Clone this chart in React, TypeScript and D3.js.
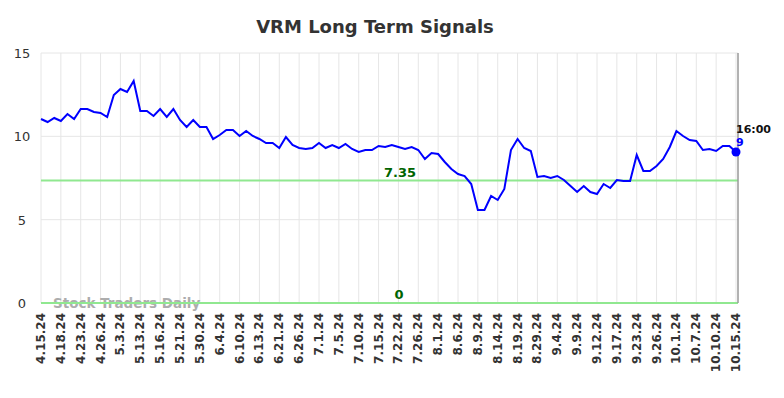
import { useEffect, useRef } from 'react';
import * as d3 from 'd3';

// tick labels shown along the bottom (every 3rd data point)
const tickLabels = [
  '4.15.24', '4.18.24', '4.23.24', '4.26.24', '5.3.24', '5.13.24', '5.16.24', '5.21.24', '5.30.24',
  '6.4.24', '6.10.24', '6.13.24', '6.21.24', '6.26.24', '7.1.24', '7.5.24', '7.10.24', '7.15.24',
  '7.22.24', '7.26.24', '8.1.24', '8.6.24', '8.9.24', '8.14.24', '8.19.24', '8.29.24', '9.4.24',
  '9.9.24', '9.12.24', '9.17.24', '9.23.24', '9.26.24', '10.1.24', '10.7.24', '10.10.24', '10.15.24'
];

// signal values
const signal = [
  11.04, 10.86, 11.1, 10.92, 11.34, 11.04, 11.64, 11.64, 11.46, 11.4,
  11.16, 12.48, 12.84, 12.66, 13.32, 11.52, 11.52, 11.22, 11.64, 11.16,
  11.64, 10.98, 10.56, 10.98, 10.56, 10.56, 9.84, 10.08, 10.38, 10.38,
  10.02, 10.32, 10.02, 9.84, 9.6, 9.6, 9.3, 9.96, 9.48, 9.3,
  9.24, 9.3, 9.6, 9.3, 9.48, 9.3, 9.54, 9.24, 9.06, 9.18,
  9.18, 9.42, 9.36, 9.48, 9.36, 9.24, 9.36, 9.18, 8.64, 9.0,
  8.94, 8.46, 8.04, 7.74, 7.62, 7.14, 5.58, 5.58, 6.42, 6.18,
  6.84, 9.18, 9.84, 9.3, 9.12, 7.56, 7.62, 7.5, 7.62, 7.38,
  7.02, 6.66, 7.02, 6.66, 6.54, 7.14, 6.9, 7.38, 7.32, 7.32,
  8.88, 7.92, 7.92, 8.22, 8.64, 9.36, 10.32, 10.02, 9.78, 9.72,
  9.18, 9.24, 9.12, 9.42, 9.42, 9.06
];

const yTicks = [0, 5, 10, 15];
const levelLine = 7.35;
const zeroLine = 0;

const W = 784;
const H = 398;
const FONT = '"DejaVu Sans", sans-serif';

export default function App() {
  const svgRef = useRef<SVGSVGElement>(null);

  useEffect(() => {
    if (!svgRef.current) return;
    const svg = d3.select(svgRef.current);
    svg.selectAll('*').remove();

    const left = 41, right = 736, plotRight = 738, top = 53, bottom = 303;

    const x = d3.scaleLinear().domain([0, signal.length - 1]).range([left, right]);
    const y = d3.scaleLinear().domain([0, 15]).range([bottom, top]);

    // title
    svg.append('text')
      .attr('x', 375).attr('y', 33)
      .attr('text-anchor', 'middle')
      .attr('font-family', FONT).attr('font-size', 18).attr('font-weight', 'bold')
      .attr('fill', '#333')
      .text('VRM Long Term Signals');

    // horizontal grid
    svg.append('g').selectAll('line')
      .data(yTicks.filter(d => d > 0))
      .enter().append('line')
      .attr('x1', left).attr('x2', plotRight)
      .attr('y1', d => y(d)).attr('y2', d => y(d))
      .attr('stroke', '#e6e6e6').attr('stroke-width', 1);

    // vertical grid
    svg.append('g').selectAll('line')
      .data(tickLabels)
      .enter().append('line')
      .attr('x1', (d, i) => x(i * 3)).attr('x2', (d, i) => x(i * 3))
      .attr('y1', top).attr('y2', bottom)
      .attr('stroke', '#e6e6e6').attr('stroke-width', 1);

    // y labels
    svg.append('g').selectAll('text')
      .data(yTicks)
      .enter().append('text')
      .attr('x', 22).attr('y', d => y(d) + 5)
      .attr('text-anchor', 'middle')
      .attr('font-family', FONT).attr('font-size', 13)
      .attr('fill', '#333')
      .text(d => d);

    // x labels
    svg.append('g').selectAll('text')
      .data(tickLabels)
      .enter().append('text')
      .attr('transform', (d, i) => `translate(${x(i * 3) + 4},313) rotate(-90)`)
      .attr('text-anchor', 'end')
      .attr('font-family', FONT).attr('font-size', 12).attr('font-weight', 'bold')
      .attr('fill', '#333')
      .text(d => d);

    // watermark
    svg.append('text')
      .attr('x', 53).attr('y', 308)
      .attr('font-family', FONT).attr('font-size', 13.5).attr('font-weight', 'bold')
      .attr('fill', '#999').attr('opacity', 0.8)
      .text('Stock Traders Daily');

    // green reference lines
    [levelLine, zeroLine].forEach(v => {
      svg.append('line')
        .attr('x1', left).attr('x2', plotRight)
        .attr('y1', y(v)).attr('y2', y(v))
        .attr('stroke', '#90e890').attr('stroke-width', 2);
    });

    svg.append('text')
      .attr('x', 400).attr('y', y(levelLine) - 4)
      .attr('text-anchor', 'middle')
      .attr('font-family', FONT).attr('font-size', 13).attr('font-weight', 'bold')
      .attr('fill', '#006400')
      .text(levelLine.toFixed(2));

    svg.append('text')
      .attr('x', 399).attr('y', y(zeroLine) - 4)
      .attr('text-anchor', 'middle')
      .attr('font-family', FONT).attr('font-size', 13).attr('font-weight', 'bold')
      .attr('fill', '#006400')
      .text('0');

    // right border
    svg.append('line')
      .attr('x1', plotRight).attr('x2', plotRight)
      .attr('y1', top).attr('y2', bottom)
      .attr('stroke', '#999').attr('stroke-width', 1.5);

    // signal line
    const line = d3.line<number>()
      .x((d, i) => x(i))
      .y(d => y(d));

    svg.append('path')
      .datum(signal)
      .attr('d', line)
      .attr('fill', 'none')
      .attr('stroke', '#0000ff')
      .attr('stroke-width', 2);

    const last = signal[signal.length - 1];
    svg.append('circle')
      .attr('cx', x(signal.length - 1)).attr('cy', y(last))
      .attr('r', 4.5).attr('fill', '#0000ff');

    svg.append('text')
      .attr('x', 736).attr('y', 133)
      .attr('font-family', FONT).attr('font-size', 11).attr('font-weight', 'bold')
      .attr('fill', '#111')
      .text('16:00');

    svg.append('text')
      .attr('x', 736).attr('y', 146)
      .attr('font-family', FONT).attr('font-size', 11).attr('font-weight', 'bold')
      .attr('fill', '#0000ff')
      .text(Math.round(last));
  }, []);

  return (
    <svg
      ref={svgRef}
      width={W}
      height={H}
      style={{ position: 'absolute', left: 0, top: 0, background: '#fff' }}
    />
  );
}
